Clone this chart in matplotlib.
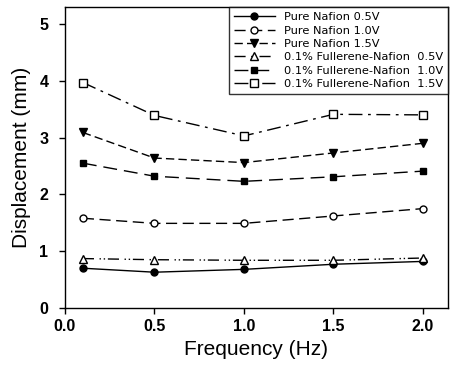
import matplotlib
matplotlib.use("Agg")
import matplotlib.pyplot as plt

freq = [0.1, 0.5, 1.0, 1.5, 2.0]
pure_05 = [0.70, 0.63, 0.68, 0.77, 0.82]
pure_10 = [1.58, 1.49, 1.49, 1.62, 1.75]
pure_15 = [3.09, 2.64, 2.56, 2.73, 2.90]
full_05 = [0.87, 0.85, 0.84, 0.84, 0.88]
full_10 = [2.55, 2.32, 2.23, 2.31, 2.41]
full_15 = [3.97, 3.39, 3.03, 3.41, 3.40]
labels = ["Pure Nafion 0.5V", "Pure Nafion 1.0V", "Pure Nafion 1.5V",
          "0.1% Fullerene-Nafion  0.5V", "0.1% Fullerene-Nafion  1.0V",
          "0.1% Fullerene-Nafion  1.5V"]

plt.rcParams['font.family'] = ['Liberation Sans', 'DejaVu Sans']
fig = plt.figure(figsize=(4.5, 3.67), dpi=100)
ax = fig.add_axes([0.1444, 0.1608, 0.8512, 0.8202])

ms = 5
ax.plot(freq, pure_05, color='k', lw=1, ls='-', marker='o', ms=ms, mfc='k', label=labels[0])
ax.plot(freq, pure_10, color='k', lw=1, ls=(0, (8, 4)), marker='o', ms=ms, mfc='white', label=labels[1])
ax.plot(freq, pure_15, color='k', lw=1, ls=(0, (6, 3)), marker='v', ms=ms + 1, mfc='k', label=labels[2])
ax.plot(freq, full_05, color='k', lw=1, ls=(0, (8, 4, 1, 2, 1, 2)), marker='^', ms=ms + 1, mfc='white', label=labels[3])
ax.plot(freq, full_10, color='k', lw=1, ls=(0, (10, 5)), marker='s', ms=ms, mfc='k', label=labels[4])
ax.plot(freq, full_15, color='k', lw=1, ls=(0, (10, 4, 2, 4)), marker='s', ms=ms + 1, mfc='white', label=labels[5])

ax.set_xlim(0, 2.14)
ax.set_ylim(0, 5.3)
ax.set_xticks([0.0, 0.5, 1.0, 1.5, 2.0])
ax.set_xticklabels(["0.0", "0.5", "1.0", "1.5", "2.0"])
ax.set_yticks([0, 1, 2, 3, 4, 5])
ax.tick_params(direction='out', length=4, width=1, labelsize=11.5)
ax.tick_params(axis='y', pad=8)
ax.tick_params(axis='x', pad=4)
for lbl in ax.get_xticklabels() + ax.get_yticklabels():
    lbl.set_fontweight('bold')
for sp in ax.spines.values():
    sp.set_linewidth(1)
ax.set_xlabel("Frequency (Hz)", fontsize=15, labelpad=4)
ax.set_ylabel("Displacement (mm)", fontsize=15, labelpad=6)

leg = ax.legend(loc='upper right', prop={'family': ['DejaVu Sans'], 'size': 8.2},
                frameon=True, fancybox=False,
                edgecolor='k', handlelength=3.6, borderaxespad=0.0,
                labelspacing=0.3, borderpad=0.45, handletextpad=0.8)
leg.get_frame().set_linewidth(1)

fig.savefig("out.png", dpi=100)
